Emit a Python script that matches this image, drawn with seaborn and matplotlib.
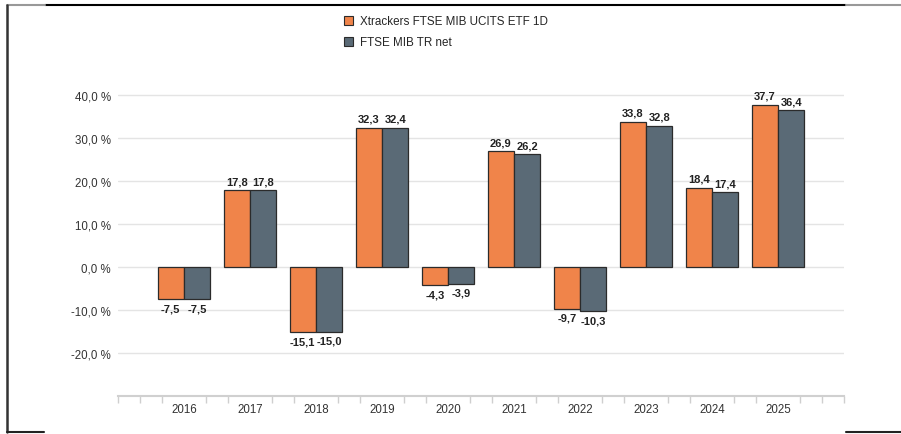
import numpy as np
import pandas as pd
import seaborn as sns
import matplotlib.pyplot as plt
from matplotlib.lines import Line2D
from matplotlib.patches import Patch

years = ["2016", "2017", "2018", "2019", "2020", "2021", "2022", "2023", "2024", "2025"]
etf = [-7.5, 17.8, -15.1, 32.3, -4.3, 26.9, -9.7, 33.8, 18.4, 37.7]
bench = [-7.5, 17.8, -15.0, 32.4, -3.9, 26.2, -10.3, 32.8, 17.4, 36.4]
series_names = ["Xtrackers FTSE MIB UCITS ETF 1D", "FTSE MIB TR net"]
yticks = [-20, -10, 0, 10, 20, 30, 40]

orange = "#f0844a"
slate = "#5a6a76"

df = pd.DataFrame({
    "year": years * 2,
    "value": etf + bench,
    "series": [series_names[0]] * len(years) + [series_names[1]] * len(years),
})

sns.set_style("white")
plt.rcParams['font.family'] = ['Liberation Sans', 'DejaVu Sans']

fig = plt.figure(figsize=(9.01, 4.35), dpi=100)
ax = fig.add_axes([118 / 901, 38 / 435, 726 / 901, 344 / 435])

sns.barplot(data=df, x="year", y="value", hue="series", order=years,
            hue_order=series_names, palette=[orange, slate], width=0.8,
            saturation=1, edgecolor="#2b2b2b", linewidth=0.9, legend=False, ax=ax)

ax.set_xlim(-1, 10)
ax.set_ylim(-30, 50)
ax.set_yticks(yticks)
ax.set_yticklabels([f"{v:.1f} %".replace(".", ",") for v in yticks])
ax.yaxis.grid(True, color="#e4e4e4", linewidth=1)
ax.set_axisbelow(True)
ax.tick_params(axis="y", length=0, pad=5, labelsize=8.3, labelcolor="#333333")
ax.tick_params(axis="x", which="major", length=0, pad=5, labelsize=8.3, labelcolor="#333333")
ax.set_xlabel("")
ax.set_ylabel("")
for s in ["top", "right", "left"]:
    ax.spines[s].set_visible(False)
ax.spines["bottom"].set_color("#d0d0d0")
ax.spines["bottom"].set_linewidth(1.5)

# small tick marks beside each category
minor = [k + d for k in range(-1, 11) for d in (-0.33, 0.33) if -1 < k + d < 10] + [-0.999, 9.999]
ax.xaxis.set_minor_locator(plt.FixedLocator(minor))
ax.tick_params(axis="x", which="minor", bottom=True, length=5, color="#cfcfcf",
               direction="out", width=1)

for cont in ax.containers:
    vals = [b.get_height() for b in cont]
    ax.bar_label(cont, labels=[f"{v:.1f}".replace(".", ",") for v in vals],
                 padding=3, fontsize=8, fontweight="bold", color="#222222")

handles = [Patch(facecolor=orange, edgecolor="#2b2b2b", linewidth=0.8),
           Patch(facecolor=slate, edgecolor="#2b2b2b", linewidth=0.8)]
fig.legend(handles, series_names, loc="upper left", bbox_to_anchor=(333 / 901, 1 - 6 / 435),
           frameon=False, fontsize=8.4, handlelength=0.85, handleheight=0.85,
           handletextpad=0.55, labelspacing=0.75)

# scanned frame edges
fig.add_artist(Line2D([45 / 901, 846 / 901], [1 - 6 / 435] * 2, color="black", lw=1.5))
fig.add_artist(Line2D([7 / 901, 45 / 901], [1 - 6 / 435] * 2, color="#999999", lw=1.5))
fig.add_artist(Line2D([846 / 901, 1], [1 - 6 / 435] * 2, color="#999999", lw=1.5))
fig.add_artist(Line2D([7 / 901] * 2, [2 / 435, 1 - 6 / 435], color="#333333", lw=1.8))
fig.add_artist(Line2D([7 / 901, 44 / 901], [2 / 435] * 2, color="#222222", lw=1.5))
fig.add_artist(Line2D([846 / 901, 1], [2 / 435] * 2, color="#222222", lw=1.5))

fig.savefig("out.png", dpi=100)
